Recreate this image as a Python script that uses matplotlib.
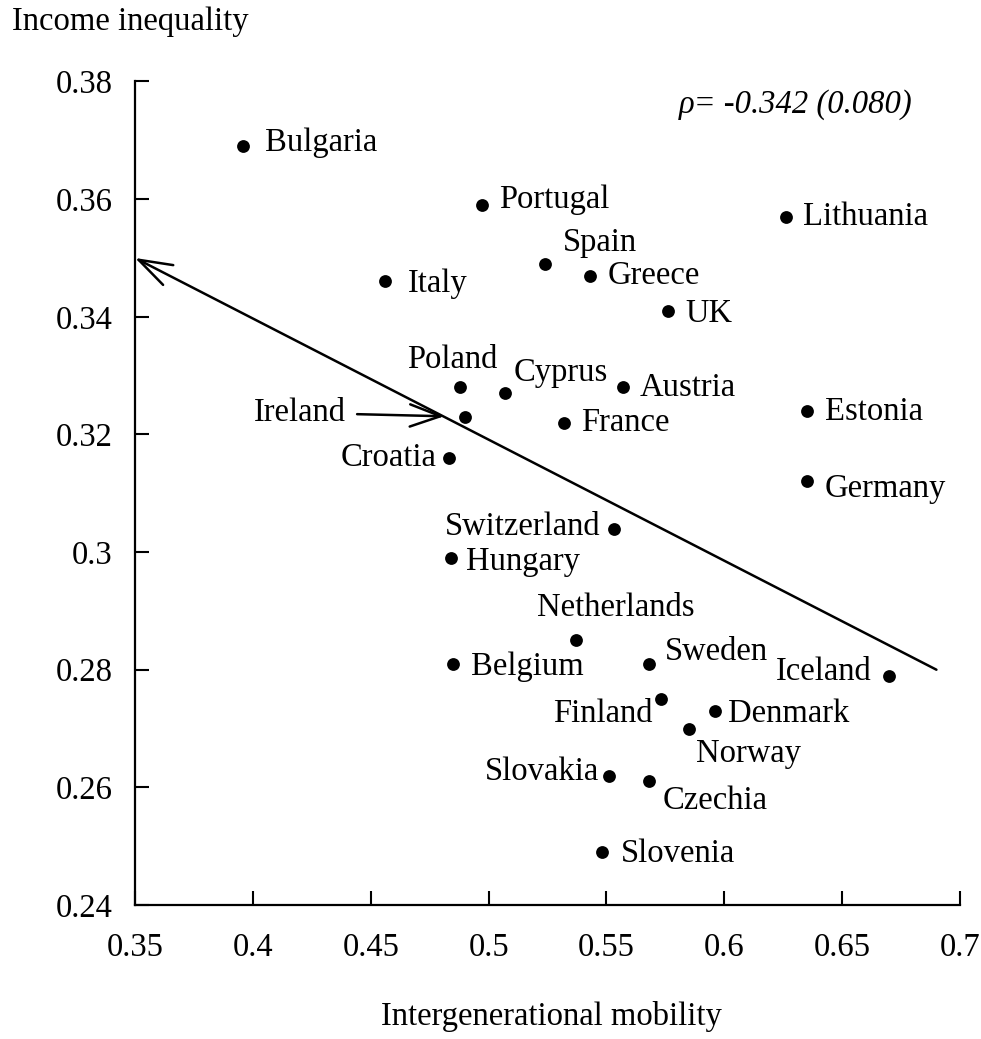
import matplotlib
matplotlib.use("Agg")
import matplotlib.pyplot as plt

# ---------------- data ----------------
countries = ["Bulgaria", "Portugal", "Lithuania", "Spain", "Greece", "Italy", "UK",
             "Poland", "Cyprus", "Austria", "Ireland", "France", "Estonia", "Croatia",
             "Germany", "Switzerland", "Hungary", "Netherlands", "Belgium", "Sweden",
             "Iceland", "Finland", "Denmark", "Norway", "Slovakia", "Czechia", "Slovenia"]
mobility = [0.396, 0.497, 0.626, 0.524, 0.543, 0.456, 0.576,
            0.488, 0.507, 0.557, 0.490, 0.532, 0.635, 0.483,
            0.635, 0.553, 0.484, 0.537, 0.485, 0.568,
            0.670, 0.573, 0.596, 0.585, 0.551, 0.568, 0.548]
inequality = [0.369, 0.359, 0.357, 0.349, 0.347, 0.346, 0.341,
              0.328, 0.327, 0.328, 0.323, 0.322, 0.324, 0.316,
              0.312, 0.304, 0.299, 0.285, 0.281, 0.281,
              0.279, 0.275, 0.273, 0.270, 0.262, 0.261, 0.249]
fit_x = [0.69, 0.35]
fit_y = [0.28, 0.35]
x_ticks = [0.35, 0.4, 0.45, 0.5, 0.55, 0.6, 0.65, 0.7]
x_ticklabels = ["0.35", "0.4", "0.45", "0.5", "0.55", "0.6", "0.65", "0.7"]
y_ticks = [0.24, 0.26, 0.28, 0.30, 0.32, 0.34, 0.36, 0.38]
y_ticklabels = ["0.24", "0.26", "0.28", "0.3", "0.32", "0.34", "0.36", "0.38"]
rho_text = "ρ= -0.342 (0.080)"

# ---------------- layout (label offsets in pixels, alignment) ----------------
label_layout = {
    "Bulgaria": (22, 3, "left"), "Portugal": (18, 5, "left"), "Lithuania": (17, 0, "left"),
    "Spain": (18, 21, "left"), "Greece": (18, 0, "left"), "Italy": (23, -2, "left"),
    "UK": (18, -3, "left"), "Poland": (-8, 28, "center"), "Cyprus": (9, 21, "left"),
    "Austria": (17, 0, "left"), "France": (17, 0, "left"), "Estonia": (18, -1, "left"),
    "Croatia": (-12, 0, "right"), "Germany": (18, -7, "left"),
    "Switzerland": (-13, 2, "right"), "Hungary": (15, -4, "left"),
    "Netherlands": (40, 33, "center"), "Belgium": (18, -3, "left"),
    "Sweden": (16, 12, "left"), "Iceland": (-18, 4, "right"),
    "Finland": (-8, -15, "right"), "Denmark": (13, -3, "left"),
    "Norway": (7, -25, "left"), "Slovakia": (-10, 4, "right"),
    "Czechia": (14, -19, "left"), "Slovenia": (19, -2, "left"),
}

plt.rcParams["font.family"] = ["Liberation Serif", "DejaVu Serif"]
FS = 23.5

fig = plt.figure(figsize=(9.81, 10.39), dpi=100)
ax = fig.add_axes([135 / 981, 1 - 905 / 1039, 825 / 981, (905 - 81.5) / 1039])

ax.scatter(mobility, inequality, s=85, color="black", zorder=3, linewidths=0)

for name, x, y in zip(countries, mobility, inequality):
    if name == "Ireland":
        ax.annotate(name, xy=(x, y), xytext=(-119, 4), textcoords="offset pixels",
                    ha="right", va="center", fontsize=FS,
                    arrowprops=dict(arrowstyle="->,head_length=1.1,head_width=0.4",
                                    color="black", lw=1.8, shrinkA=6, shrinkB=15,
                                    mutation_scale=20))
        continue
    dx, dy, ha = label_layout[name]
    ax.annotate(name, xy=(x, y), xytext=(dx, dy), textcoords="offset pixels",
                ha=ha, va="center", fontsize=FS)

# regression line with arrow head at the left end
ax.annotate("", xy=(fit_x[1], fit_y[1]), xytext=(fit_x[0], fit_y[0]),
            xycoords="data", textcoords="data",
            arrowprops=dict(arrowstyle="->,head_length=1.2,head_width=0.4",
                            color="black", lw=1.8, shrinkA=0, shrinkB=0,
                            mutation_scale=20), annotation_clip=False)

ax.text(0.943, 0.9715, rho_text, transform=ax.transAxes, ha="right", va="center",
        fontsize=FS, style="italic")

ax.set_xlim(0.35, 0.7)
ax.set_ylim(0.24, 0.38)
ax.set_xticks(x_ticks)
ax.set_xticklabels(x_ticklabels)
ax.set_yticks(y_ticks)
ax.set_yticklabels(y_ticklabels)
ax.tick_params(direction="in", length=10, width=1.5, labelsize=FS)
ax.tick_params(axis="y", pad=16)
ax.tick_params(axis="x", pad=20)
for side in ["top", "right"]:
    ax.spines[side].set_visible(False)
for side in ["left", "bottom"]:
    ax.spines[side].set_linewidth(1.6)

fig.text(12 / 981, 1 - 22 / 1039, "Income inequality", ha="left", va="center", fontsize=FS)
fig.text(551 / 981, 1 - 1016 / 1039, "Intergenerational mobility", ha="center",
         va="center", fontsize=FS)

fig.savefig("out.png", dpi=100)
